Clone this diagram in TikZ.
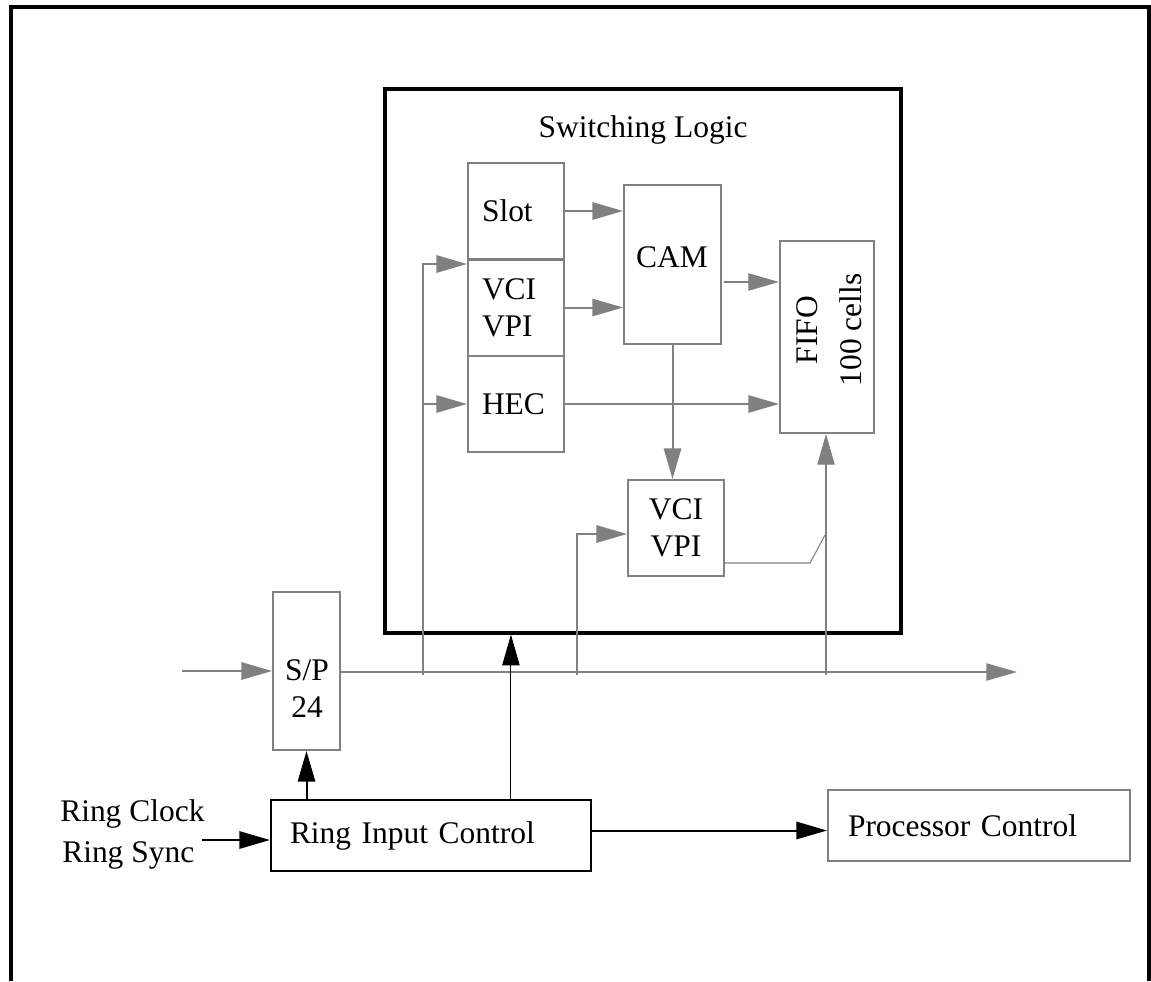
\documentclass[tikz,border=0pt]{standalone}
\usepackage{fontspec}
\setmainfont{Liberation Serif}
\usetikzlibrary{arrows.meta,calc}
\definecolor{gr}{RGB}{128,128,128}
\begin{document}
\begin{tikzpicture}[x=0.75pt,y=-0.75pt,
  font=\fontsize{23.6}{27.75}\selectfont,
  sz/.style 2 args={minimum width=#1*0.75pt,minimum height=#2*0.75pt},
  gbox/.style={draw=gr,line width=1.5pt,inner sep=0pt},
  colbox/.style={gbox,align=left,inner xsep=10.5pt,text width=51pt,minimum height=72pt},
  tip/.style={-{Triangle[length=23pt,width=13pt]}},
  garr/.style={draw=gr,line width=1.5pt,tip},
  gthinarr/.style={draw=gr,line width=0.8pt,tip},
  gthin/.style={draw=gr,line width=0.8pt},
  karr/.style={draw=black,line width=1.5pt,tip},
  karrthin/.style={draw=black,line width=0.8pt,tip},
  lbl/.style={inner sep=0pt}
]
\useasboundingbox (0,0) rectangle (1151,981);
% outer frame
\draw[line width=2.4pt,line join=miter] (11,981) -- (11,7) -- (1149,7) -- (1149,981);

% switching logic box
\node[draw=black,line width=2.4pt,inner sep=0pt,sz={516}{544}] (sw) at (643,361) {};
\node[lbl] (swlbl) at (643,130) {Switching Logic};

% column
\node[colbox] (slot) at (516,211) {Slot};
\node[colbox] (vci1) at (516,307.5) {VCI\\VPI};
\node[colbox] (hec) at (516,404) {HEC};

% CAM
\node[gbox,sz={97}{159}] (cam) at (672.5,264.5) {};
\node[lbl] (camlbl) at (672,257) {CAM};

% FIFO
\node[gbox,sz={94}{192}] (fifo) at (827,337) {};
\node[lbl,rotate=90,align=center] (fifolbl) at (829,330) {FIFO\\[5pt]100 cells};

% lower VCI VPI
\node[gbox,sz={96}{96},align=center] (vci2) at (676,528) {VCI\\VPI};

% S/P
\node[gbox,sz={67}{158}] (sp) at (306.5,671) {};
\node[lbl,align=center] (splbl) at (307,689) {S/P\\24};

% Ring Input Control
\node[draw=black,line width=1.6pt,align=left,inner xsep=14.25pt,text width=211.5pt,minimum height=53.25pt] (ric) at (431,835.5) {Ring Input Control};

% Processor Control
\node[gbox,align=left,inner xsep=15pt,text width=196.5pt,minimum height=53.25pt] (pc) at (979,825.5) {Processor Control};

% Ring Clock / Ring Sync
\node[lbl,anchor=base west] (rclk) at (60,821) {Ring Clock};
\node[lbl,anchor=base west] (rsync) at (62,862) {Ring Sync};

% coordinates
\coordinate (in) at (182,671);
\coordinate (busend) at (1017,672);
\coordinate (j1) at (423,675);
\coordinate (j2) at (577,675);
\coordinate (j3) at (826,675);
\coordinate (k1) at (810,563);
\coordinate (k2) at (825,535);
\coordinate (rin) at (202,840);
\coordinate (r2) at ($(ric.north west)+(241,0)$);

% internal gray connectors
\draw[garr] (slot.east) -- (slot.east -| cam.west);
\draw[garr] (vci1.east) -- (vci1.east -| cam.west);
\draw[gthinarr] ($(cam.east)+(2,17.5)$) coordinate (cf) -- (cf -| fifo.west);
\draw[garr] (hec.east) -- (hec.east -| fifo.west);
\draw[garr] (cam.south) -- (cam.south |- vci2.north);
\draw[gthin] ($(vci2.east)+(0,35)$) -- (k1) -- (k2);

% bus and branches
\draw[garr] (in) -- (sp.west);
\draw[gthinarr] ($(sp.east)+(0,1)$) -- (busend);
\draw[garr] (j1) |- ($(slot.south west)+(0,4)$);
\draw[garr] (j1 |- hec.west) -- (hec.west);
\draw[garr] (j2) |- ($(vci2.west)+(0,6)$);
\draw[gthinarr] (j3) -- (j3 |- fifo.south);

% black connectors
\draw[karr] (sp.south |- ric.north) -- (sp.south);
\draw[karrthin] (r2) -- (r2 |- sw.south);
\draw[karr] ($(ric.east)+(0,-5)$) coordinate (re) -- (re -| pc.west);
\draw[karr] (rin) -- (rin -| ric.west);
\end{tikzpicture}
\end{document}
